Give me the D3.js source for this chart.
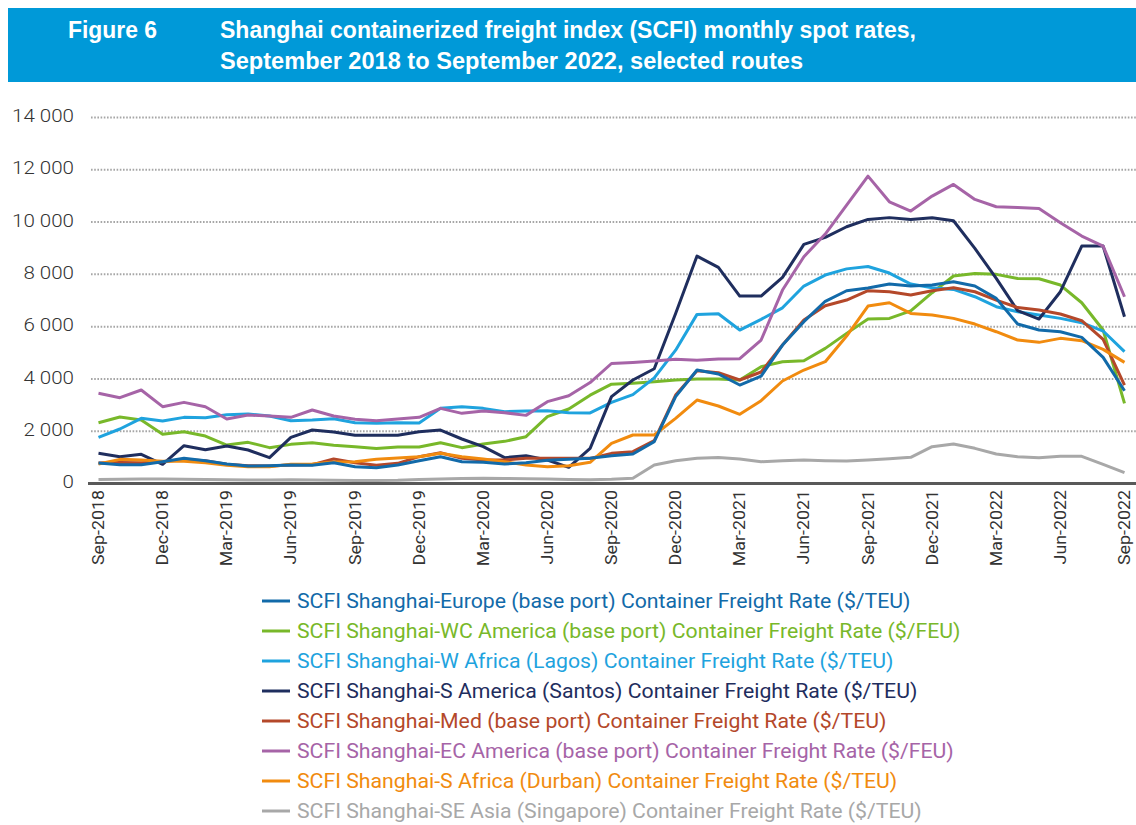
<!DOCTYPE html>
<html>
<head>
<meta charset="utf-8">
<script src="https://cdn.jsdelivr.net/npm/d3@7"></script>
<style>
  body { margin: 0; background: #fff; }
  svg { display: block; }
  .cond { font-family: Roboto, "Noto Sans", sans-serif; }
</style>
</head>
<body>
<div id="chart"></div>
<script>
// months Sep-2018 .. Sep-2022
var months = d3.timeMonth.range(new Date(2018, 8, 1), new Date(2022, 9, 1)).map(d3.timeFormat("%b-%Y"));
var tickLabels = ["Sep-2018","Dec-2018","Mar-2019","Jun-2019","Sep-2019","Dec-2019","Mar-2020","Jun-2020",
  "Sep-2020","Dec-2020","Mar-2021","Jun-2021","Sep-2021","Dec-2021","Mar-2022","Jun-2022","Sep-2022"];
var yTicks = [0, 2000, 4000, 6000, 8000, 10000, 12000, 14000];

var europe = [784,720,720,835,962,873,745,669,682,707,695,797,643,600,707,873,1026,835,810,745,797,886,924,962,
  1064,1128,1600,3321,4340,4187,3767,4111,5296,6189,6970,7374,7475,7629,7552,7591,7719,7552,7080,6099,5870,5806,5590,4825,3550];
var wcAmerica = [2326,2543,2428,1880,1983,1816,1472,1574,1371,1497,1561,1459,1409,1340,1396,1396,1561,1371,1510,1612,1791,2556,2849,3378,
  3800,3831,3895,3958,3996,3996,3958,4468,4659,4697,5169,5743,6291,6316,6600,7298,7935,8037,8000,7845,7833,7591,6915,5870,3066];
var wAfrica = [1765,2084,2492,2390,2530,2518,2632,2658,2580,2403,2428,2480,2326,2305,2326,2313,2874,2938,2874,2747,2772,2785,2708,2700,
  3100,3400,4040,5100,6469,6495,5870,6278,6720,7553,7973,8210,8300,8050,7629,7489,7425,7145,6762,6571,6444,6316,6151,5832,5042];
var sAmerica = [1153,1026,1115,733,1447,1294,1434,1281,988,1765,2046,1970,1842,1842,1842,1983,2046,1702,1409,988,1064,899,618,1345,
  3321,3958,4390,6500,8700,8266,7170,7170,7884,9146,9413,9821,10102,10170,10102,10166,10051,8992,7845,6610,6291,7336,9082,9082,6380];
var med = [784,800,790,835,920,870,740,680,670,710,720,937,797,695,772,1026,1179,962,899,899,962,962,962,962,
  1153,1217,1639,3384,4315,4238,3958,4264,5296,6252,6800,7017,7374,7335,7208,7374,7489,7335,7017,6730,6635,6482,6227,5513,3767];
var ecAmerica = [3449,3282,3576,2938,3104,2938,2467,2619,2580,2530,2811,2580,2455,2403,2467,2530,2874,2683,2772,2708,2606,3130,3359,3860,
  4590,4630,4685,4749,4710,4761,4774,5488,7400,8674,9541,10650,11759,10777,10421,10994,11440,10866,10587,10560,10522,9975,9465,9082,7145];
var sAfrica = [745,924,899,848,848,797,695,643,643,733,745,823,835,924,975,1026,1153,1026,937,835,707,643,682,810,
  1536,1855,1855,2492,3193,2964,2645,3168,3920,4340,4659,5641,6788,6915,6507,6444,6316,6099,5806,5488,5399,5552,5463,5131,4633];
var seAsia = [150,160,170,170,160,150,140,130,130,140,130,120,110,110,120,150,170,190,200,190,180,170,150,140,
  160,200,707,873,962,990,937,835,873,899,873,860,899,950,1000,1409,1510,1345,1128,1026,988,1039,1039,733,414];

var seriesNames = [
  "SCFI Shanghai-Europe (base port) Container Freight Rate ($/TEU)",
  "SCFI Shanghai-WC America (base port) Container Freight Rate ($/FEU)",
  "SCFI Shanghai-W Africa (Lagos) Container Freight Rate ($/TEU)",
  "SCFI Shanghai-S America (Santos) Container Freight Rate ($/TEU)",
  "SCFI Shanghai-Med (base port) Container Freight Rate ($/TEU)",
  "SCFI Shanghai-EC America (base port) Container Freight Rate ($/FEU)",
  "SCFI Shanghai-S Africa (Durban) Container Freight Rate ($/TEU)",
  "SCFI Shanghai-SE Asia (Singapore) Container Freight Rate ($/TEU)"
];
var seriesColors = ["#126aa9", "#78b82a", "#1fa3de", "#1f2e5e", "#b4482a", "#a664a7", "#f18b0f", "#a8a8a8"];
var seriesValues = [europe, wcAmerica, wAfrica, sAmerica, med, ecAmerica, sAfrica, seAsia];

var width = 1136, height = 825;
var svg = d3.select("#chart").append("svg").attr("width", width).attr("height", height);

// horizontal factor so that the first text of a selection gets the width seen in the picture
function squeeze(sel, target) {
  var w = sel.node().getComputedTextLength();
  return target / w;
}

// header band
svg.append("rect").attr("x", 8).attr("y", 8).attr("width", width - 8).attr("height", 74).attr("fill", "#0099d8");
var head = svg.append("g").attr("fill", "#fff").attr("font-family", "Liberation Sans, Arial, sans-serif")
  .attr("font-weight", "bold").attr("font-size", 23);
head.append("text").attr("x", 68).attr("y", 37.5).attr("textLength", 89).attr("lengthAdjust", "spacingAndGlyphs").text("Figure 6");
head.append("text").attr("x", 220).attr("y", 37.5).attr("textLength", 696).attr("lengthAdjust", "spacingAndGlyphs")
  .text("Shanghai containerized freight index (SCFI) monthly spot rates,");
head.append("text").attr("x", 220).attr("y", 69).attr("textLength", 583).attr("lengthAdjust", "spacingAndGlyphs")
  .text("September 2018 to September 2022, selected routes");

// scales
var x = d3.scalePoint().domain(months).range([98.5, 1124.5]);
var y = d3.scaleLinear().domain([0, 14000]).range([483.5, 117.5]);

// gridlines
svg.selectAll("line.grid").data(yTicks.filter(function(d) { return d > 0; }))
  .enter().append("line").attr("class", "grid")
  .attr("x1", 91).attr("x2", width)
  .attr("y1", function(d) { return y(d); }).attr("y2", function(d) { return y(d); })
  .attr("stroke", "#a6a6a6").attr("stroke-width", 2).attr("stroke-dasharray", "1.6,1.6");

// y labels
var fmt = function(d) { return d3.format(",")(d).replace(",", " "); };
var yl = svg.append("g").attr("class", "cond").selectAll("g").data(yTicks).enter().append("g");
var ylText = yl.append("text").attr("text-anchor", "end").attr("dy", "0.35em")
  .attr("font-size", 19).attr("font-weight", 300).attr("fill", "#333").text(fmt);
var sy = squeeze(ylText.filter(function(d) { return d === 14000; }), 62);
yl.attr("transform", function(d) { return "translate(74," + (y(d) - 2) + ") scale(" + sy + ",1)"; });

// x labels
var xl = svg.append("g").attr("class", "cond").selectAll("g").data(tickLabels).enter().append("g");
var xlText = xl.append("text").attr("text-anchor", "end").attr("dy", "0.35em")
  .attr("font-size", 16).attr("fill", "#333").text(function(d) { return d; });
var sx = squeeze(xlText, 75);
xl.attr("transform", function(d) { return "translate(" + x(d) + ",490) rotate(-90) scale(" + sx + ",1)"; });

// lines (Europe last, on top)
var line = d3.line().x(function(d, i) { return x(months[i]); }).y(function(d) { return y(d); });
var order = [7, 1, 2, 3, 4, 5, 6, 0];
svg.append("g").selectAll("path").data(order).enter().append("path")
  .attr("d", function(k) { return line(seriesValues[k]); })
  .attr("fill", "none").attr("stroke", function(k) { return seriesColors[k]; })
  .attr("stroke-width", 3).attr("stroke-linejoin", "round");

// axis line
svg.append("line").attr("x1", 88).attr("x2", width).attr("y1", y(0)).attr("y2", y(0))
  .attr("stroke", "#595959").attr("stroke-width", 3);

// legend
var leg = svg.append("g").selectAll("g").data(seriesNames).enter().append("g")
  .attr("transform", function(d, i) { return "translate(262," + (601 + i * 30) + ")"; });
leg.append("line").attr("x1", 0).attr("x2", 28).attr("stroke", function(d, i) { return seriesColors[i]; })
  .attr("stroke-width", 3);
var legText = leg.append("g").attr("class", "cond").append("text").attr("dy", "0.35em").attr("font-size", 20)
  .attr("fill", function(d, i) { return seriesColors[i]; })
  .text(function(d) { return d; });
var sl = squeeze(legText, 614);
leg.select("g").attr("transform", "translate(35,0) scale(" + sl + ",1)");
</script>
</body>
</html>
